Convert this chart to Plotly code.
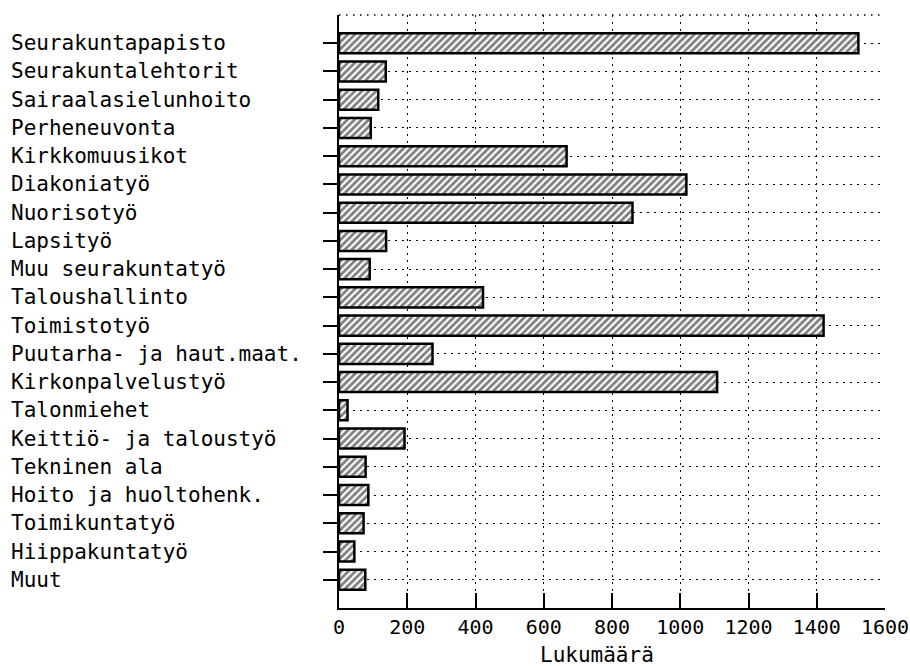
import plotly.graph_objects as go

categories = [
    "Seurakuntapapisto", "Seurakuntalehtorit", "Sairaalasielunhoito", "Perheneuvonta",
    "Kirkkomuusikot", "Diakoniatyö", "Nuorisotyö", "Lapsityö", "Muu seurakuntatyö",
    "Taloushallinto", "Toimistotyö", "Puutarha- ja haut.maat.", "Kirkonpalvelustyö",
    "Talonmiehet", "Keittiö- ja taloustyö", "Tekninen ala", "Hoito ja huoltohenk.",
    "Toimikuntatyö", "Hiippakuntatyö", "Muut",
]
values = [1522, 137, 115, 93, 667, 1018, 860, 138, 90, 422,
          1420, 274, 1108, 25, 192, 78, 86, 72, 45, 77]
x_ticks = [0, 200, 400, 600, 800, 1000, 1200, 1400, 1600]
x_title = "Lukumäärä"

FONT = "DejaVu Sans Mono"
W, H = 910, 666
ML, MR, MT, MB = 339, 25, 15, 58
pw = W - ML - MR
ph = H - MT - MB

fig = go.Figure()
fig.add_trace(go.Bar(
    x=values, y=categories, orientation="h",
    marker=dict(
        color="white",
        line=dict(color="black", width=2.5),
        pattern=dict(shape="/", fgcolor="black", bgcolor="white", size=5, solidity=0.55),
    ),
    showlegend=False,
))

dash = "1.5px,5.5px"
fig.update_xaxes(
    range=[0, 1600], tickvals=x_ticks, ticktext=[str(t) for t in x_ticks],
    showline=True, linecolor="black", linewidth=2,
    ticks="inside", ticklen=15, tickwidth=2, tickcolor="black",
    showgrid=True, gridcolor="black", gridwidth=1.3, griddash=dash,
    zeroline=False, automargin=False,
    tickfont=dict(family=FONT, size=20, color="black"),
)
fig.update_yaxes(
    type="category", categoryorder="array", categoryarray=categories,
    range=[20, -1],
    showline=True, linecolor="black", linewidth=2,
    ticks="outside", ticklen=14, tickwidth=2, tickcolor="black",
    showticklabels=False, automargin=False,
    showgrid=True, gridcolor="black", gridwidth=1.3, griddash=dash,
    zeroline=False,
)

# top dotted border
fig.add_shape(type="line", xref="paper", yref="paper", x0=0, x1=1, y0=1, y1=1,
              line=dict(color="black", width=1.3, dash=dash))

# left-aligned category labels
for c in categories:
    fig.add_annotation(
        x=(9 - ML) / pw, xref="paper", xanchor="left",
        y=c, yref="y", yanchor="middle",
        text=c, showarrow=False,
        font=dict(family=FONT, size=21, color="black"),
    )

fig.add_annotation(
    x=(597 - ML) / pw, xref="paper", xanchor="center",
    y=-(655 - (H - MB)) / ph, yref="paper", yanchor="middle",
    text=x_title, showarrow=False,
    font=dict(family=FONT, size=21, color="black"),
)

fig.update_layout(
    width=W, height=H,
    margin=dict(l=ML, r=MR, t=MT, b=MB, pad=0, autoexpand=False),
    paper_bgcolor="white", plot_bgcolor="white",
    bargap=0.29,
)

fig.write_html(
    "out.html",
    config={"displayModeBar": False},
    post_script="document.body.style.margin='0';document.body.style.overflow='hidden';",
)
